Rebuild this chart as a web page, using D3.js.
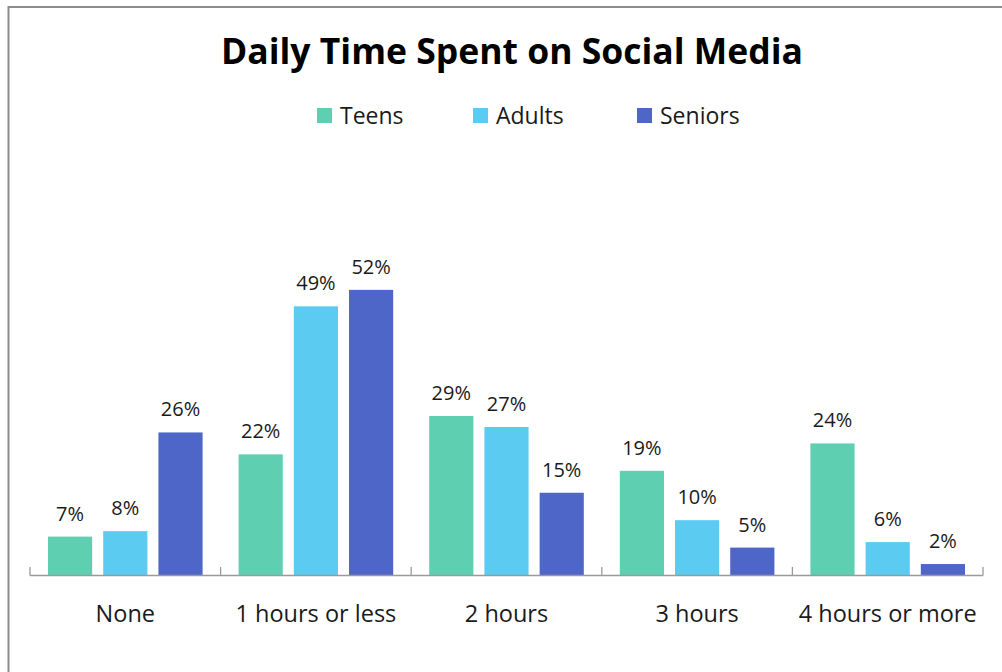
<!DOCTYPE html>
<html>
<head>
<meta charset="utf-8">
<script src="https://cdn.jsdelivr.net/npm/d3@7"></script>
<style>
  html, body { margin: 0; padding: 0; background: #fff; }
  svg { display: block; }
  text { font-family: "Segoe UI", "Open Sans", "Noto Sans", sans-serif; fill: #1a1a1a; }
</style>
</head>
<body>
<svg id="chart" width="1002" height="672"></svg>
<script>
// Share of each age group by daily time spent on social media (%)
const categories = ["None", "1 hours or less", "2 hours", "3 hours", "4 hours or more"];
const seriesNames = ["Teens", "Adults", "Seniors"];
const teens   = [7, 22, 29, 19, 24];
const adults  = [8, 49, 27, 10, 6];
const seniors = [26, 52, 15, 5, 2];
const colors  = ["#5ecfb0", "#5bcbf2", "#4e66c8"];
const yMax = 60;

const seriesValues = [teens, adults, seniors];
const rows = categories.map((c, i) => ({
  category: c,
  values: seriesNames.map((s, k) => ({ series: s, value: seriesValues[k][i] }))
}));

const svg = d3.select("#chart");

// Chart frame (top and left edges visible)
svg.append("line").attr("x1", 8).attr("x2", 1002).attr("y1", 7).attr("y2", 7)
  .attr("stroke", "#8c8c8c").attr("stroke-width", 2);
svg.append("line").attr("x1", 8.5).attr("x2", 8.5).attr("y1", 6).attr("y2", 672)
  .attr("stroke", "#8c8c8c").attr("stroke-width", 2);

// Title
svg.append("text")
  .attr("x", 512).attr("y", 64)
  .attr("text-anchor", "middle")
  .attr("font-size", 35.5).attr("font-weight", 700)
  .style("fill", "#000")
  .text("Daily Time Spent on Social Media");

// Legend
const legendX = [317, 473, 637];
const legend = svg.append("g");
seriesNames.forEach((s, k) => {
  legend.append("rect")
    .attr("x", legendX[k]).attr("y", 108).attr("width", 15).attr("height", 15)
    .attr("fill", colors[k]);
  legend.append("text")
    .attr("x", legendX[k] + 23).attr("y", 124)
    .attr("font-size", 23)
    .text(s);
});

// Scales
const x0 = d3.scaleBand().domain(categories).range([30, 983]).paddingInner(0).paddingOuter(0);
const x1 = d3.scaleBand().domain(seriesNames).range([18, x0.bandwidth() - 18]).paddingInner(0.2);
const y = d3.scaleLinear().domain([0, yMax]).range([575, 246]);
const color = d3.scaleOrdinal().domain(seriesNames).range(colors);

// Bars
const groups = svg.append("g").selectAll("g")
  .data(rows).join("g")
  .attr("transform", d => `translate(${x0(d.category)},0)`);

groups.selectAll("rect")
  .data(d => d.values).join("rect")
  .attr("x", d => x1(d.series))
  .attr("width", x1.bandwidth())
  .attr("y", d => y(d.value))
  .attr("height", d => y(0) - y(d.value))
  .attr("fill", d => color(d.series));

// Value labels
groups.selectAll("text.val")
  .data(d => d.values).join("text")
  .attr("class", "val")
  .attr("x", d => x1(d.series) + x1.bandwidth() / 2)
  .attr("y", d => y(d.value) - 16)
  .attr("text-anchor", "middle")
  .attr("font-size", 20)
  .text(d => d.value + "%");

// Category axis: baseline with upward ticks at category boundaries
const axisG = svg.append("g").attr("transform", `translate(0,${y(0)})`);
axisG.append("line")
  .attr("x1", x0.range()[0]).attr("x2", x0.range()[1])
  .attr("y1", 0.5).attr("y2", 0.5)
  .attr("stroke", "#9a9a9a").attr("stroke-width", 1.3);
const boundaries = categories.map(c => x0(c)).concat([x0.range()[1]]);
axisG.selectAll("line.tick")
  .data(boundaries).join("line")
  .attr("class", "tick")
  .attr("x1", d => d).attr("x2", d => d)
  .attr("y1", 0.5).attr("y2", -8)
  .attr("stroke", "#9a9a9a").attr("stroke-width", 1.3);
axisG.selectAll("text.cat")
  .data(categories).join("text")
  .attr("class", "cat")
  .attr("x", d => x0(d) + x0.bandwidth() / 2)
  .attr("y", 47)
  .attr("text-anchor", "middle")
  .attr("font-size", 23.5)
  .text(d => d);
</script>
</body>
</html>
